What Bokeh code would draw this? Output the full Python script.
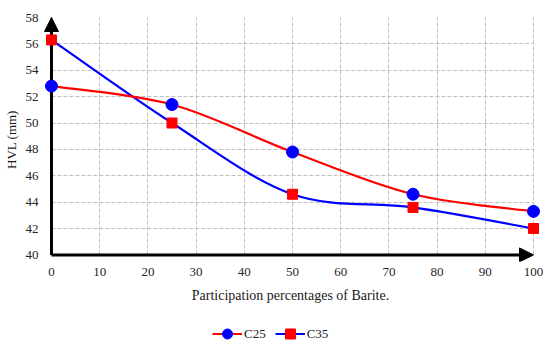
import numpy as np
from bokeh.plotting import figure
from bokeh.layouts import column
from bokeh.models import Range1d, Arrow, NormalHead, Legend, LegendItem, ColumnDataSource
from bokeh.embed import file_html
from bokeh.resources import INLINE

# ---- data ----
barite_pct = [0, 25, 50, 75, 100]
hvl_c25 = [52.8, 51.4, 47.8, 44.6, 43.3]
hvl_c35 = [56.3, 50.0, 44.6, 43.6, 42.0]
x_ticks = [0, 10, 20, 30, 40, 50, 60, 70, 80, 90, 100]
y_ticks = [40, 42, 44, 46, 48, 50, 52, 54, 56, 58]
series_names = ["C25", "C35"]

X_MIN, X_MAX = x_ticks[0], x_ticks[-1]
Y_MIN, Y_MAX = y_ticks[0], y_ticks[-1]

FONT = "Liberation Serif"
RED, BLUE = "#FF0000", "#0000FF"


def smooth_segments(xs, ys):
    """Cubic Bezier segments through the points (Catmull-Rom style smoothing)."""
    xs = np.asarray(xs, float)
    ys = np.asarray(ys, float)
    n = len(xs)
    xp = np.concatenate([[xs[0]], xs, [xs[-1]]])
    yp = np.concatenate([[ys[0]], ys, [ys[-1]]])
    return dict(
        x0=xs[:-1], y0=ys[:-1], x1=xs[1:], y1=ys[1:],
        cx0=xs[:-1] + (xp[2:n + 1] - xp[0:n - 1]) / 6.0,
        cy0=ys[:-1] + (yp[2:n + 1] - yp[0:n - 1]) / 6.0,
        cx1=xs[1:] - (xp[3:n + 2] - xp[1:n]) / 6.0,
        cy1=ys[1:] - (yp[3:n + 2] - yp[1:n]) / 6.0,
    )


p = figure(width=550, height=319,
           x_range=Range1d(-2.28, 101.45), y_range=Range1d(39.5, 58.0),
           output_backend="svg", toolbar_location=None,
           min_border_left=38, min_border_right=10, min_border_top=17, min_border_bottom=58)
p.outline_line_color = None
p.background_fill_color = "white"

# grid
for g, ticks, b, cb in [(p.xgrid, x_ticks, (X_MIN, X_MAX), (Y_MIN, Y_MAX)),
                        (p.ygrid, y_ticks, (Y_MIN, Y_MAX), (X_MIN, X_MAX))]:
    g.ticker = ticks
    g.bounds = b
    g.cross_bounds = cb
    g.grid_line_color = "#BFBFBF"
    g.grid_line_dash = "4 2"
    g.grid_line_width = 1

# axes
for ax, ticks in [(p.xaxis, x_ticks), (p.yaxis, y_ticks)]:
    ax.ticker = ticks
    ax.axis_line_color = None
    ax.major_tick_line_color = None
    ax.major_tick_out = 0
    ax.major_tick_in = 0
    ax.minor_tick_line_color = None
    ax.minor_tick_out = 0
    ax.major_label_text_font = FONT
    ax.major_label_text_font_size = "13px"
    ax.major_label_text_color = "#262626"
    ax.axis_label_text_font = FONT
    ax.axis_label_text_font_size = "13px"
    ax.axis_label_text_font_style = "normal"
    ax.axis_label_text_color = "#1a1a1a"

p.xaxis.axis_label = "Participation percentages of Barite."
p.xaxis.axis_label_text_font_size = "14px"
p.yaxis.axis_label = "HVL (mm)"
p.xaxis.major_label_standoff = 6
p.yaxis.major_label_standoff = 2
p.xaxis.axis_label_standoff = 9
p.yaxis.axis_label_standoff = 4

# axis arrows
p.add_layout(Arrow(x_start=X_MIN, y_start=Y_MIN, x_end=X_MIN, y_end=Y_MAX,
                   line_width=3, line_color="black", level="underlay",
                   end=NormalHead(size=14, fill_color="black", line_color="black", line_width=1)))
p.add_layout(Arrow(x_start=X_MIN, y_start=Y_MIN, x_end=X_MAX, y_end=Y_MIN,
                   line_width=3, line_color="black", level="underlay",
                   end=NormalHead(size=14, fill_color="black", line_color="black", line_width=1)))

# smooth curves through the data points
seg25 = ColumnDataSource(smooth_segments(barite_pct, hvl_c25))
seg35 = ColumnDataSource(smooth_segments(barite_pct, hvl_c35))
p.bezier(x0="x0", y0="y0", x1="x1", y1="y1", cx0="cx0", cy0="cy0", cx1="cx1", cy1="cy1",
         source=seg35, line_color=BLUE, line_width=2.2)
p.bezier(x0="x0", y0="y0", x1="x1", y1="y1", cx0="cx0", cy0="cy0", cx1="cx1", cy1="cy1",
         source=seg25, line_color=RED, line_width=2.2)

p.scatter(barite_pct, hvl_c35, marker="square", size=10, fill_color=RED, line_color=RED)
p.scatter(barite_pct, hvl_c25, marker="circle", size=12, fill_color=BLUE, line_color=BLUE)

# ---- legend strip below the chart ----
# its ranges lie away from the data, so its renderers only serve as legend swatches
lg = figure(width=550, height=28, x_range=Range1d(-20, -10), y_range=Range1d(0, 1),
            x_axis_type=None, y_axis_type=None, output_backend="svg", toolbar_location=None,
            min_border=0)
lg.outline_line_color = None
lg.xgrid.visible = False
lg.ygrid.visible = False
l25 = lg.line(barite_pct, hvl_c25, line_color=RED, line_width=2)
s25 = lg.scatter(barite_pct, hvl_c25, marker="circle", fill_color=BLUE, line_color=BLUE)
l35 = lg.line(barite_pct, hvl_c35, line_color=BLUE, line_width=2)
s35 = lg.scatter(barite_pct, hvl_c35, marker="square", fill_color=RED, line_color=RED)

legend = Legend(items=[LegendItem(label=series_names[0], renderers=[l25, s25]),
                       LegendItem(label=series_names[1], renderers=[l35, s35])],
                orientation="horizontal", location=(172, 1),
                label_text_font=FONT, label_text_font_size="13px", label_text_color="#1a1a1a",
                glyph_width=30, glyph_height=25, label_height=25, label_standoff=2, spacing=9,
                padding=0, margin=0, border_line_color=None, background_fill_alpha=0)
lg.add_layout(legend, "center")

layout = column(p, lg, spacing=0)
open("out.html", "w").write(file_html(layout, INLINE))
